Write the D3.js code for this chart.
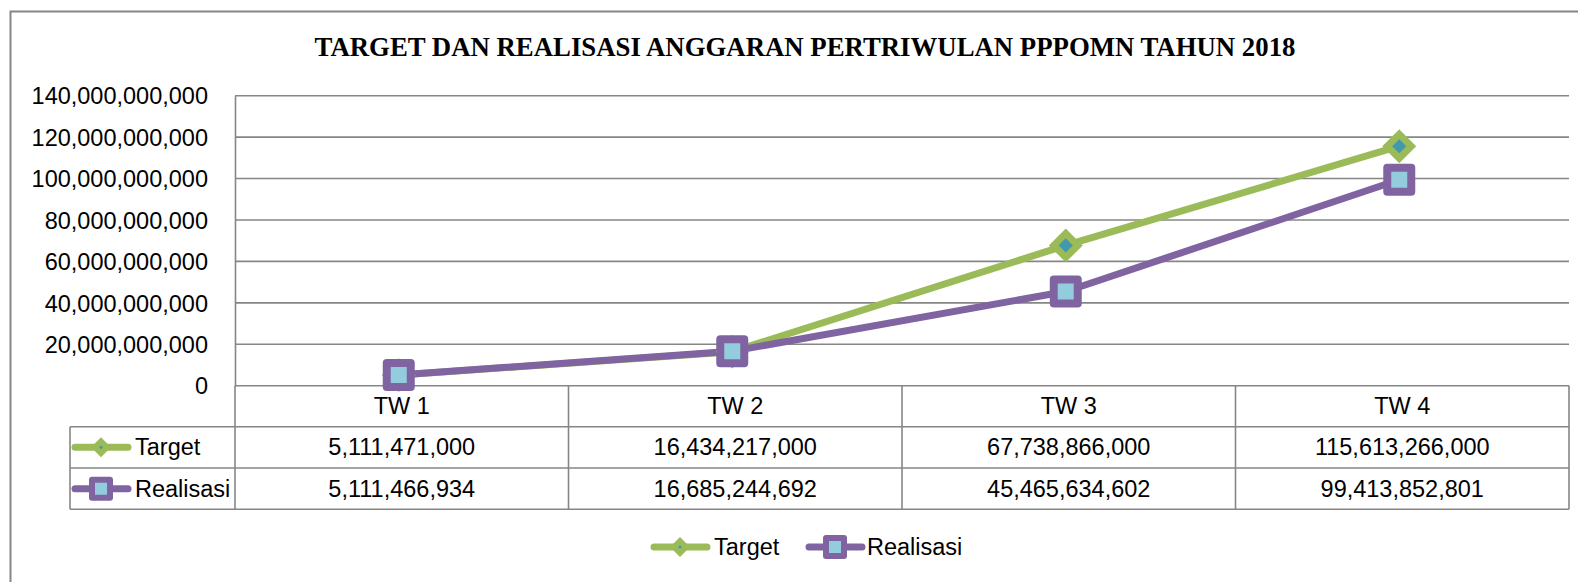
<!DOCTYPE html>
<html><head><meta charset="utf-8">
<script src="https://cdn.jsdelivr.net/npm/d3@7"></script>
<style>
html,body{margin:0;padding:0;background:#fff;}
svg{display:block;}
</style></head>
<body>
<svg id="chart" width="1578" height="582"></svg>
<script>
const title = "TARGET DAN REALISASI ANGGARAN PERTRIWULAN PPPOMN TAHUN 2018";
const categories = ["TW 1", "TW 2", "TW 3", "TW 4"];
const targetValues = [5111471000, 16434217000, 67738866000, 115613266000];
const realisasiValues = [5111466934, 16685244692, 45465634602, 99413852801];
const seriesNames = ["Target", "Realisasi"];
const yTicks = [0, 20000000000, 40000000000, 60000000000, 80000000000, 100000000000, 120000000000, 140000000000];

const svg = d3.select("#chart");
const W = 1578, H = 582;
const gridColor = "#868686";
const font = "'Liberation Sans', Arial, sans-serif";
const colors = {Target: "#9BBB59", Realisasi: "#8064A2"};
const fills = {Target: "#4198AF", Realisasi: "#93CDDD"};

// outer border
svg.append("rect").attr("x", 10.5).attr("y", 11.5).attr("width", W + 20).attr("height", H + 20)
  .attr("fill", "none").attr("stroke", gridColor).attr("stroke-width", 2);

// title
const t = svg.append("text").attr("x", 805).attr("y", 55.5).attr("text-anchor", "middle")
  .attr("font-family", "'Liberation Serif', 'Times New Roman', serif").attr("font-weight", "bold")
  .attr("font-size", 26).attr("fill", "#000").text(title);
const tl = t.node().getComputedTextLength();
if (tl > 0) t.attr("font-size", 26 * 981 / tl);

const plot = {left: 235, right: 1569, top: 95.7, bottom: 385.7};
const x = d3.scaleBand().domain(categories).range([plot.left, plot.right]).padding(0);
const y = d3.scaleLinear().domain([0, 140000000000]).range([plot.bottom, plot.top]);
const fmt = d3.format(",");

// gridlines
svg.append("g").selectAll("line").data(yTicks).join("line")
  .attr("x1", plot.left).attr("x2", plot.right)
  .attr("y1", d => y(d)).attr("y2", d => y(d))
  .attr("stroke", gridColor).attr("stroke-width", 1.6);

// y axis via d3 axis
const yAxis = svg.append("g").attr("transform", `translate(${plot.left},0)`)
  .call(d3.axisLeft(y).tickValues(yTicks).tickFormat(fmt).tickSize(0).tickPadding(27));
yAxis.select(".domain").attr("stroke", gridColor).attr("stroke-width", 1.6);
yAxis.selectAll("text").attr("font-family", font).attr("font-size", 23.5).attr("fill", "#000")
  .attr("dy", "0.35em");

// table
const rowH = 41.4;
const tableLeft = 70;
const tTop = plot.bottom, r1 = tTop + 41, r2 = r1 + 41.3, r3 = r2 + 41.3;
const tg = svg.append("g");
// vertical lines for columns
const colEdges = categories.map(c => x(c)).concat([plot.right]);
tg.selectAll("line.v").data(colEdges).join("line").attr("class", "v")
  .attr("x1", d => d).attr("x2", d => d).attr("y1", tTop).attr("y2", r3)
  .attr("stroke", gridColor).attr("stroke-width", 1.6);
tg.append("line").attr("x1", tableLeft).attr("x2", tableLeft).attr("y1", r1).attr("y2", r3)
  .attr("stroke", gridColor).attr("stroke-width", 1.6);
[r1, r2, r3].forEach(yy => {
  tg.append("line").attr("x1", tableLeft).attr("x2", plot.right).attr("y1", yy).attr("y2", yy)
    .attr("stroke", gridColor).attr("stroke-width", 1.6);
});
// category labels
tg.selectAll("text.cat").data(categories).join("text").attr("class", "cat")
  .attr("x", d => x(d) + x.bandwidth() / 2).attr("y", (tTop + r1) / 2 + 8)
  .attr("text-anchor", "middle").attr("font-family", font).attr("font-size", 23.5).text(d => d);

const rows = [{name: "Target", vals: targetValues, y0: r1, y1: r2}, {name: "Realisasi", vals: realisasiValues, y0: r2, y1: r3}];

function marker(g, name, cx, cy, scale) {
  if (name === "Target") {
    const r = 12 * scale;
    g.append("path").attr("d", `M${cx},${cy - r}L${cx + r},${cy}L${cx},${cy + r}L${cx - r},${cy}Z`)
      .attr("fill", fills.Target).attr("stroke", colors.Target).attr("stroke-width", 7 * scale)
      .attr("stroke-linejoin", "miter");
  } else {
    const s = 24 * scale;
    g.append("rect").attr("x", cx - s / 2).attr("y", cy - s / 2).attr("width", s).attr("height", s)
      .attr("fill", fills.Realisasi).attr("stroke", colors.Realisasi).attr("stroke-width", 8 * scale)
      .attr("stroke-linejoin", "round");
  }
}
function legendKey(g, name, x0, cy) {
  g.append("line").attr("x1", x0 + 3).attr("x2", x0 + 56).attr("y1", cy).attr("y2", cy)
    .attr("stroke", colors[name]).attr("stroke-width", 7).attr("stroke-linecap", "round");
  if (name === "Target") {
    const r = 10;
    g.append("path").attr("d", `M${x0 + 29},${cy - r}L${x0 + 29 + r},${cy}L${x0 + 29},${cy + r}L${x0 + 29 - r},${cy}Z`)
      .attr("fill", colors.Target);
    g.append("circle").attr("cx", x0 + 29).attr("cy", cy).attr("r", 1.5).attr("fill", fills.Target);
  } else {
    g.append("rect").attr("x", x0 + 29 - 9).attr("y", cy - 9).attr("width", 18).attr("height", 18)
      .attr("fill", fills.Realisasi).attr("stroke", colors.Realisasi).attr("stroke-width", 6)
      .attr("stroke-linejoin", "round");
  }
}

rows.forEach(r => {
  const cy = (r.y0 + r.y1) / 2;
  legendKey(tg, r.name, tableLeft + 2, cy);
  tg.append("text").attr("x", tableLeft + 65).attr("y", cy + 8).attr("font-family", font)
    .attr("font-size", 23.5).text(r.name);
  tg.selectAll(null).data(r.vals).join("text")
    .attr("x", (d, i) => x(categories[i]) + x.bandwidth() / 2).attr("y", cy + 8)
    .attr("text-anchor", "middle").attr("font-family", font).attr("font-size", 23.5)
    .text(d => fmt(d));
});

// lines
const line = d3.line().x((d, i) => x(categories[i]) + x.bandwidth() / 2 - 3).y(d => y(d));
const seriesData = [{name: "Target", vals: targetValues}, {name: "Realisasi", vals: realisasiValues}];
seriesData.forEach(s => {
  svg.append("path").datum(s.vals).attr("d", line).attr("fill", "none")
    .attr("stroke", colors[s.name]).attr("stroke-width", 7).attr("stroke-linejoin", "round");
});
seriesData.forEach(s => {
  const g = svg.append("g");
  s.vals.forEach((v, i) => marker(g, s.name, x(categories[i]) + x.bandwidth() / 2 - 3, y(v), 1));
});

// bottom legend
const lg = svg.append("g");
legendKey(lg, "Target", 651, 547);
lg.append("text").attr("x", 714).attr("y", 555).attr("font-family", font).attr("font-size", 23.5).text("Target");
legendKey(lg, "Realisasi", 806, 547);
lg.append("text").attr("x", 867).attr("y", 555).attr("font-family", font).attr("font-size", 23.5).text("Realisasi");
</script>
</body></html>
